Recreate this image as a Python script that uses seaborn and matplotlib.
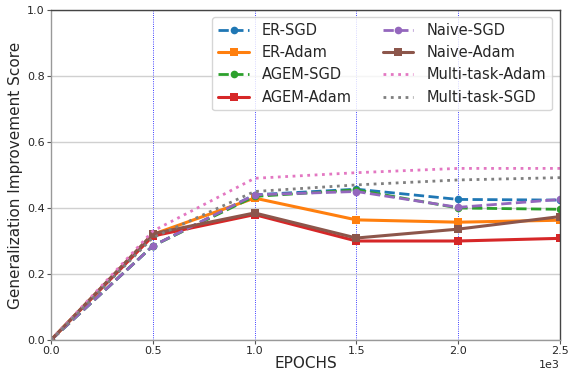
import matplotlib
matplotlib.use("Agg")
import matplotlib.pyplot as plt
import seaborn as sns
import pandas as pd

epochs = [0, 500, 1000, 1500, 2000, 2500]
er_sgd = [0.0, 0.285, 0.44, 0.457, 0.426, 0.424]
er_adam = [0.0, 0.32, 0.43, 0.364, 0.357, 0.363]
agem_sgd = [0.0, 0.285, 0.435, 0.455, 0.40, 0.396]
agem_adam = [0.0, 0.315, 0.38, 0.30, 0.30, 0.308]
naive_sgd = [0.0, 0.285, 0.44, 0.45, 0.402, 0.426]
naive_adam = [0.0, 0.322, 0.385, 0.309, 0.336, 0.374]
mt_adam = [0.0, 0.33, 0.49, 0.507, 0.52, 0.52]
mt_sgd = [0.0, 0.31, 0.45, 0.47, 0.485, 0.492]

series = [
    ("ER-SGD", er_sgd, "#1f77b4", "--", "o"),
    ("ER-Adam", er_adam, "#ff7f0e", "-", "s"),
    ("AGEM-SGD", agem_sgd, "#2ca02c", "--", "o"),
    ("AGEM-Adam", agem_adam, "#d62728", "-", "s"),
    ("Naive-SGD", naive_sgd, "#9467bd", "--", "o"),
    ("Naive-Adam", naive_adam, "#8c564b", "-", "s"),
    ("Multi-task-Adam", mt_adam, "#e377c2", ":", None),
    ("Multi-task-SGD", mt_sgd, "#7f7f7f", ":", None),
]

sns.set_style("white")
plt.rcParams['font.family'] = ['DejaVu Sans']

fig = plt.figure(figsize=(5.7, 3.72), dpi=100)
ax = fig.add_axes([51/570, 1-340/372, 509/570, 330/372])

for name, vals, color, ls, mk in series:
    df = pd.DataFrame({"x": epochs, "y": vals})
    kw = dict(marker=mk, markersize=5.5) if mk else {}
    lw = 2.2 if ls == "-" else 2.0
    sns.lineplot(data=df, x="x", y="y", ax=ax, color=color, linestyle=ls,
                 linewidth=lw, label=name, markeredgewidth=0, **kw)

for xv in [500, 1000, 1500, 2000]:
    ax.axvline(xv, color="blue", linestyle=":", linewidth=0.6, zorder=0)

ax.set_xlim(0, 2500)
ax.set_ylim(0, 1.0)
ax.set_xticks([0, 500, 1000, 1500, 2000, 2500])
ax.set_yticks([0, 0.2, 0.4, 0.6, 0.8, 1.0])
ax.ticklabel_format(axis="x", style="sci", scilimits=(0, 0))
ax.xaxis.get_offset_text().set_fontsize(8)
ax.yaxis.grid(True, color="#d0d0d0", linewidth=1)
ax.set_axisbelow(True)
ax.tick_params(axis="both", labelsize=8, length=3, width=0.8, direction="out",
               bottom=True, left=True, pad=1.5, color="#555555")
ax.set_xlabel("EPOCHS", fontsize=11, labelpad=0)
ax.set_ylabel("Generalization Improvement Score", fontsize=11, labelpad=3)
for s in ["left", "bottom"]:
    ax.spines[s].set_color("#999999")
for s in ["top", "right"]:
    ax.spines[s].set_color("#444444")
for s in ax.spines.values():
    s.set_linewidth(1)

ax.legend(ncol=2, fontsize=10.5, loc="upper right", bbox_to_anchor=(0.984, 0.979),
          borderaxespad=0, frameon=True, handlelength=2.1, columnspacing=2.1,
          labelspacing=0.5, borderpad=0.4, handletextpad=0.9)

fig.savefig("out.png", dpi=100)
